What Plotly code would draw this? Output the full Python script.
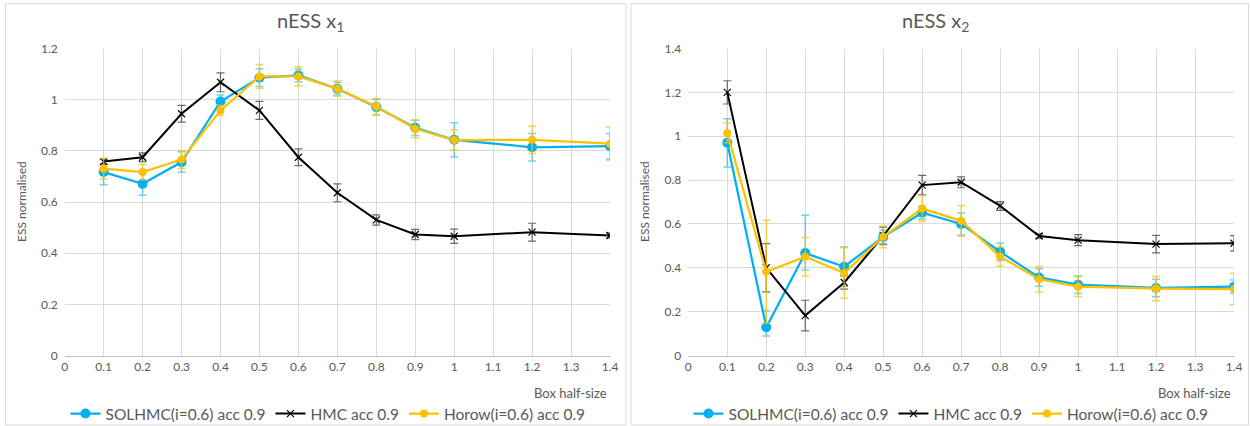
import plotly.graph_objects as go

# ---------------- data ----------------
box_half_size = [0.1, 0.2, 0.3, 0.4, 0.5, 0.6, 0.7, 0.8, 0.9, 1.0, 1.2, 1.4]

# chart 1: nESS x1
sol_x1 = [0.717, 0.671, 0.756, 0.993, 1.086, 1.095, 1.043, 0.971, 0.890, 0.843, 0.814, 0.818]
sol_x1_err = [0.050, 0.045, 0.040, 0.025, 0.035, 0.025, 0.025, 0.030, 0.030, 0.067, 0.054, 0.050]
hmc_x1 = [0.758, 0.775, 0.945, 1.068, 0.958, 0.775, 0.636, 0.530, 0.473, 0.466, 0.482, 0.469]
hmc_x1_err = [0.010, 0.017, 0.033, 0.037, 0.035, 0.033, 0.035, 0.020, 0.020, 0.028, 0.035, 0.010]
hor_x1 = [0.730, 0.717, 0.766, 0.958, 1.091, 1.091, 1.043, 0.973, 0.886, 0.842, 0.843, 0.828]
hor_x1_err = [0.040, 0.030, 0.035, 0.020, 0.046, 0.038, 0.030, 0.032, 0.035, 0.039, 0.053, 0.065]

# chart 2: nESS x2
sol_x2 = [0.970, 0.129, 0.467, 0.405, 0.541, 0.651, 0.600, 0.473, 0.356, 0.323, 0.308, 0.314]
sol_x2_err_plus = [0.110, 0.076, 0.173, 0.090, 0.030, 0.030, 0.050, 0.040, 0.040, 0.040, 0.040, 0.030]
sol_x2_err_minus = [0.110, 0.040, 0.077, 0.090, 0.030, 0.030, 0.050, 0.040, 0.040, 0.040, 0.040, 0.030]
hmc_x2 = [1.200, 0.400, 0.182, 0.333, 0.545, 0.777, 0.790, 0.682, 0.545, 0.526, 0.508, 0.512]
hmc_x2_err = [0.053, 0.110, 0.070, 0.030, 0.040, 0.044, 0.025, 0.020, 0.010, 0.025, 0.040, 0.035]
hor_x2 = [1.015, 0.382, 0.450, 0.376, 0.541, 0.670, 0.614, 0.451, 0.348, 0.314, 0.305, 0.303]
hor_x2_err = [0.045, 0.235, 0.088, 0.115, 0.050, 0.058, 0.070, 0.043, 0.058, 0.045, 0.055, 0.072]

names = ["SOLHMC(i=0.6) acc 0.9", "HMC acc 0.9", "Horow(i=0.6) acc 0.9"]
titles = ["nESS x<sub>1</sub>", "nESS x<sub>2</sub>"]
x_ticks = [0, 0.1, 0.2, 0.3, 0.4, 0.5, 0.6, 0.7, 0.8, 0.9, 1.0, 1.1, 1.2, 1.3, 1.4]
x_tick_text = ["0", "0.1", "0.2", "0.3", "0.4", "0.5", "0.6", "0.7", "0.8", "0.9", "1", "1.1", "1.2", "1.3", "1.4"]

# ---------------- style ----------------
W, H = 1250, 426
FONT = "Lato"
TXT = "#595959"
GRID = "#d9d9d9"
BLUE = "#00B0F0"
GOLD = "#FFC000"
BLACK = "#000000"

def px(x):
    return x / W

def py(y):
    return 1 - y / H

fig = go.Figure()

def add_series(xa, ya, legend, sol, sol_ep, sol_em, hmc, hmc_e, hor, hor_e):
    fig.add_trace(go.Scatter(
        x=box_half_size, y=sol, name=names[0], mode="lines+markers",
        xaxis=xa, yaxis=ya, legend=legend,
        line=dict(color=BLUE, width=2.25),
        marker=dict(symbol="circle", size=10, color=BLUE),
        error_y=dict(type="data", array=sol_ep, arrayminus=sol_em, symmetric=False,
                     color="rgba(0,176,240,0.55)", thickness=1.5, width=4),
    ))
    fig.add_trace(go.Scatter(
        x=box_half_size, y=hmc, name=names[1], mode="lines+markers",
        xaxis=xa, yaxis=ya, legend=legend,
        line=dict(color=BLACK, width=2),
        marker=dict(symbol="x-thin-open", size=7, color=BLACK, line=dict(width=1.2, color=BLACK)),
        error_y=dict(type="data", array=hmc_e, color="rgba(70,70,70,0.8)", thickness=1.2, width=4),
    ))
    fig.add_trace(go.Scatter(
        x=box_half_size, y=hor, name=names[2], mode="lines+markers",
        xaxis=xa, yaxis=ya, legend=legend,
        line=dict(color=GOLD, width=2.25),
        marker=dict(symbol="circle", size=8, color=GOLD),
        error_y=dict(type="data", array=hor_e, color="rgba(255,192,0,0.7)", thickness=1.5, width=4),
    ))

add_series("x", "y", "legend", sol_x1, sol_x1_err, sol_x1_err, hmc_x1, hmc_x1_err, hor_x1, hor_x1_err)
add_series("x2", "y2", "legend2", sol_x2, sol_x2_err_plus, sol_x2_err_minus, hmc_x2, hmc_x2_err, hor_x2, hor_x2_err)

y_bot, y_top = 355.5, 48.5
axis_common = dict(showgrid=True, gridcolor=GRID, gridwidth=1, zeroline=False, automargin=False,
                   tickfont=dict(family=FONT, size=12, color=TXT), ticks="", fixedrange=True)

legend_common = dict(orientation="h", xanchor="center", yanchor="middle",
                     font=dict(family=FONT, size=15.5, color=TXT), bgcolor="rgba(0,0,0,0)",
                     itemwidth=30, tracegroupgap=0)

fig.update_layout(
    width=W, height=H,
    margin=dict(l=0, r=0, t=0, b=0, autoexpand=False),
    paper_bgcolor="white", plot_bgcolor="white",
    showlegend=True,
    xaxis=dict(domain=[px(64.7), px(610)], range=[0, 1.4], tickvals=x_ticks, ticktext=x_tick_text,
               anchor="y", showline=True, linecolor="#bfbfbf", linewidth=1, mirror=False, **axis_common),
    yaxis=dict(domain=[py(y_bot), py(y_top)], range=[0, 1.2], dtick=0.2, tickformat="~g",
               anchor="x", showline=False, ticklabelstandoff=6, **axis_common),
    xaxis2=dict(domain=[px(688.3), px(1234)], range=[0, 1.4], tickvals=x_ticks, ticktext=x_tick_text,
                anchor="y2", showline=True, linecolor="#bfbfbf", linewidth=1, mirror=False, **axis_common),
    yaxis2=dict(domain=[py(y_bot), py(y_top)], range=[0, 1.4], dtick=0.2, tickformat="~g",
                anchor="x2", showline=False, ticklabelstandoff=6, **axis_common),
    legend=dict(x=px(328), y=py(414), **legend_common),
    legend2=dict(x=px(951), y=py(414), **legend_common),
)

# chart borders
fig.add_shape(type="rect", xref="paper", yref="paper", x0=px(5.5), x1=px(626), y0=py(425), y1=py(3.5),
              line=dict(color=GRID, width=1), fillcolor="rgba(0,0,0,0)", layer="below")
fig.add_shape(type="rect", xref="paper", yref="paper", x0=px(631), x1=px(1248.5), y0=py(425), y1=py(3.5),
              line=dict(color=GRID, width=1), fillcolor="rgba(0,0,0,0)", layer="below")

# titles and axis titles
for cx, t in zip([310, 935], titles):
    fig.add_annotation(text=t, x=px(cx), y=py(22), xref="paper", yref="paper", showarrow=False,
                       xanchor="center", yanchor="middle", font=dict(family=FONT, size=20, color=TXT))
for cx in [22, 645]:
    fig.add_annotation(text="ESS normalised", x=px(cx), y=py(202), xref="paper", yref="paper",
                       showarrow=False, textangle=-90, xanchor="center", yanchor="middle",
                       font=dict(family=FONT, size=12, color=TXT))
for rx in [609, 1233]:
    fig.add_annotation(text="Box half-size", x=px(rx), y=py(393), xref="paper", yref="paper",
                       showarrow=False, xanchor="right", yanchor="middle",
                       font=dict(family=FONT, size=13, color=TXT))

# remove the default page margin so the 1250x426 figure fills the window exactly
fig.write_html("out.html", config={"displayModeBar": False},
               post_script="document.body.style.margin='0';document.body.style.overflow='hidden';")
